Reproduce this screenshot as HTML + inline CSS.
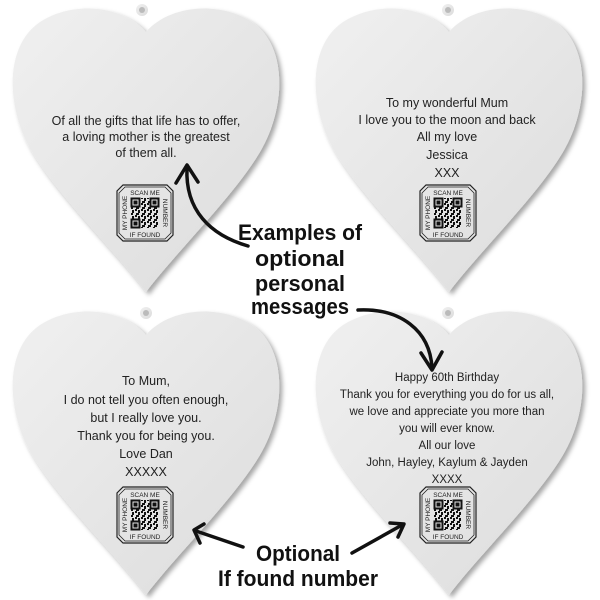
<!DOCTYPE html>
<html><head><meta charset="utf-8"><style>
html,body{margin:0;padding:0;background:#fff}
svg{display:block}
.t{font-family:"Liberation Sans",sans-serif;font-size:12.5px;fill:#222;text-anchor:middle}
.q{font-family:"Liberation Sans",sans-serif;font-size:6.5px;fill:#222;text-anchor:middle}
.b{font-family:"Liberation Sans",sans-serif;font-weight:bold;font-size:22px;fill:#111;text-anchor:middle}
</style></head><body>
<svg width="600" height="600" viewBox="0 0 600 600" xmlns="http://www.w3.org/2000/svg">
<defs>
<linearGradient id="g" x1="0" y1="0" x2="1" y2="1">
<stop offset="0" stop-color="#f0f0f0"/><stop offset="0.5" stop-color="#e6e6e6"/><stop offset="1" stop-color="#dcdcdc"/></linearGradient>
<filter id="sh" x="-10%" y="-10%" width="130%" height="130%"><feDropShadow dx="3" dy="3" stdDeviation="2.5" flood-color="#000" flood-opacity="0.35"/></filter>
<pattern id="qp" width="6" height="6" patternUnits="userSpaceOnUse">
<rect x="0" y="0" width="2" height="2" fill="#111"/><rect x="3" y="1" width="2" height="3" fill="#111"/><rect x="1" y="4" width="3" height="2" fill="#111"/></pattern>
<path id="h" d="M0,22 C-22,-4 -72,-10 -106,12 C-142,36 -140,98 -114,142 C-88,186 -32,240 0,282 C32,240 88,186 114,142 C140,98 142,36 106,12 C72,-10 22,-4 0,22 Z"/>
<g id="qr">
<path d="M6,0 H50 L56,6 V50 L50,56 H6 L0,50 V6 Z" fill="none" stroke="#222" stroke-width="1.2"/>
<path d="M8,2 H48 L54,8 V48 L48,54 H8 L2,48 V8 Z" fill="none" stroke="#222" stroke-width="0.8"/>
<rect x="14" y="13" width="28" height="30" fill="url(#qp)"/>
<rect x="14.5" y="13.5" width="8" height="8" fill="#e4e4e4" stroke="#111" stroke-width="2"/><rect x="16.5" y="15.5" width="4" height="4" fill="#111"/>
<rect x="33.5" y="13.5" width="8" height="8" fill="#e4e4e4" stroke="#111" stroke-width="2"/><rect x="35.5" y="15.5" width="4" height="4" fill="#111"/>
<rect x="14.5" y="34.5" width="8" height="8" fill="#e4e4e4" stroke="#111" stroke-width="2"/><rect x="16.5" y="36.5" width="4" height="4" fill="#111"/>
</g>
</defs>

<g transform="translate(146,10)"><use href="#h" fill="url(#g)" filter="url(#sh)"/><circle cx="-4" cy="0" r="6" fill="url(#g)"/><circle cx="-4" cy="0" r="3" fill="#bbb"/></g>
<g transform="translate(449,10)"><use href="#h" fill="url(#g)" filter="url(#sh)"/><circle cx="-1" cy="0" r="6" fill="url(#g)"/><circle cx="-1" cy="0" r="3" fill="#bbb"/></g>
<g transform="translate(146,313)"><use href="#h" fill="url(#g)" filter="url(#sh)"/><circle cx="0" cy="0" r="6" fill="url(#g)"/><circle cx="0" cy="0" r="3" fill="#bbb"/></g>
<g transform="translate(449,313)"><use href="#h" fill="url(#g)" filter="url(#sh)"/><circle cx="-1" cy="0" r="6" fill="url(#g)"/><circle cx="-1" cy="0" r="3" fill="#bbb"/></g>

<text class="t" x="146" y="125">Of all the gifts that life has to offer,</text>
<text class="t" x="146" y="141">a loving mother is the greatest</text>
<text class="t" x="146" y="157">of them all.</text>

<text class="t" x="447" y="107">To my wonderful Mum</text>
<text class="t" x="447" y="124">I love you to the moon and back</text>
<text class="t" x="447" y="141">All my love</text>
<text class="t" x="447" y="159">Jessica</text>
<text class="t" x="447" y="177">XXX</text>

<text class="t" x="146" y="385">To Mum,</text>
<text class="t" x="146" y="404">I do not tell you often enough,</text>
<text class="t" x="146" y="422">but I really love you.</text>
<text class="t" x="146" y="440">Thank you for being you.</text>
<text class="t" x="146" y="458">Love Dan</text>
<text class="t" x="146" y="476">XXXXX</text>

<text class="t" style="font-size:11.5px" x="447" y="381">Happy 60th Birthday</text>
<text class="t" style="font-size:11.5px" x="447" y="398">Thank you for everything you do for us all,</text>
<text class="t" style="font-size:11.5px" x="447" y="415">we love and appreciate you more than</text>
<text class="t" style="font-size:11.5px" x="447" y="432">you will ever know.</text>
<text class="t" style="font-size:11.5px" x="447" y="449">All our love</text>
<text class="t" style="font-size:11.5px" x="447" y="466">John, Hayley, Kaylum &amp; Jayden</text>
<text class="t" style="font-size:11.5px" x="447" y="483">XXXX</text>

<g transform="translate(117,185)"><use href="#qr"/>
<text class="q" x="28" y="10">SCAN ME</text><text class="q" x="28" y="52">IF FOUND</text>
<text class="q" transform="translate(10,28) rotate(-90)">MY PHONE</text><text class="q" transform="translate(46,28) rotate(90)">NUMBER</text></g>
<g transform="translate(420,185)"><use href="#qr"/>
<text class="q" x="28" y="10">SCAN ME</text><text class="q" x="28" y="52">IF FOUND</text>
<text class="q" transform="translate(10,28) rotate(-90)">MY PHONE</text><text class="q" transform="translate(46,28) rotate(90)">NUMBER</text></g>
<g transform="translate(117,487)"><use href="#qr"/>
<text class="q" x="28" y="10">SCAN ME</text><text class="q" x="28" y="52">IF FOUND</text>
<text class="q" transform="translate(10,28) rotate(-90)">MY PHONE</text><text class="q" transform="translate(46,28) rotate(90)">NUMBER</text></g>
<g transform="translate(420,487)"><use href="#qr"/>
<text class="q" x="28" y="10">SCAN ME</text><text class="q" x="28" y="52">IF FOUND</text>
<text class="q" transform="translate(10,28) rotate(-90)">MY PHONE</text><text class="q" transform="translate(46,28) rotate(90)">NUMBER</text></g>

<g fill="none" stroke="#111" stroke-width="3.5" stroke-linecap="round" stroke-linejoin="round">
<path d="M248,246 C210,235 185,210 187,168"/>
<path d="M176,183 L187,165 L198,182"/>
<path d="M358,310 C400,308 430,330 432,368"/>
<path d="M421,353 L432,370 L442,352"/>
<path d="M243,547 L196,531"/>
<path d="M204,524 L194,530 L200,543"/>
<path d="M352,553 L402,525"/>
<path d="M390,523 L404,524 L398,537"/>
</g>

<text class="b" x="300" y="240" textLength="124" lengthAdjust="spacingAndGlyphs">Examples of</text>
<text class="b" x="300" y="266" textLength="90" lengthAdjust="spacingAndGlyphs">optional</text>
<text class="b" x="300" y="291" textLength="90" lengthAdjust="spacingAndGlyphs">personal</text>
<text class="b" x="300" y="314" textLength="98" lengthAdjust="spacingAndGlyphs">messages</text>
<text class="b" x="298" y="561" textLength="84" lengthAdjust="spacingAndGlyphs">Optional</text>
<text class="b" x="298" y="586" textLength="160" lengthAdjust="spacingAndGlyphs">If found number</text>
</svg>
</body></html>
